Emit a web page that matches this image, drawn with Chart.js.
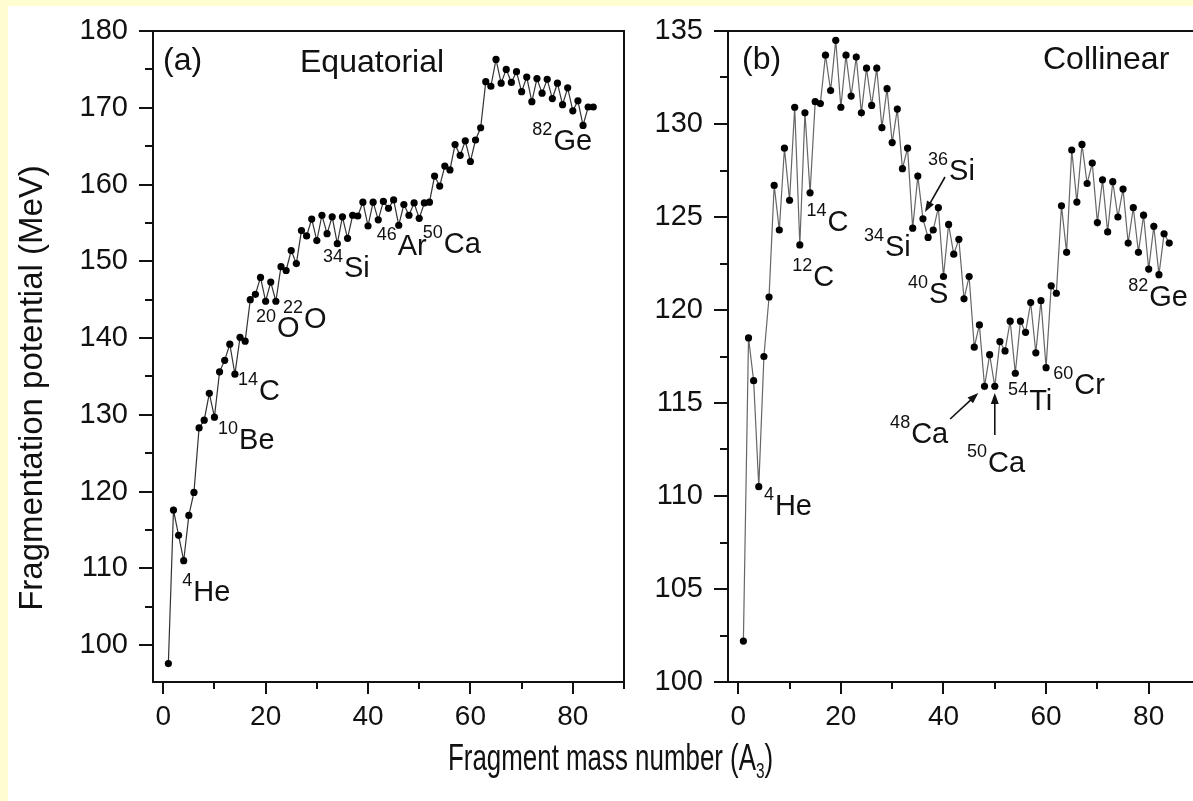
<!DOCTYPE html>
<html>
<head>
<meta charset="utf-8">
<script src="https://cdn.jsdelivr.net/npm/chart.js@4.4.0/dist/chart.umd.min.js"></script>
<style>
    html, body { margin: 0; padding: 0; }
    body {
        width: 1193px; height: 801px; overflow: hidden; position: relative;
        background: #fff; font-family: "Liberation Sans", Arial, sans-serif;
    }
    .strip { position: absolute; background: #fdfdcf; z-index: 5; }
    #stripTop { left: 0; top: 0; width: 1193px; height: 6px; }
    #stripLeft { left: 0; top: 0; width: 8px; height: 801px; }
    #panelA { position: absolute; left: 0; top: 0; }
    #panelB { position: absolute; left: 640px; top: 0; }
    #xTitle {
        position: absolute; left: 448px; top: 737px; font-size: 37px; color: #111;
        white-space: nowrap; transform: scaleX(0.7); transform-origin: 0 0;
    }
    #xTitle sub { font-size: 22px; vertical-align: -8px; }
</style>
</head>
<body>
<div class="strip" id="stripTop"></div>
<div class="strip" id="stripLeft"></div>
<canvas id="panelA" width="640" height="801"></canvas>
<canvas id="panelB" width="580" height="801"></canvas>
<div id="xTitle">Fragment mass number (A<sub>3</sub>)</div>
<script>
// fragment mass number A3 (both panels share it)
const massNumbers = [
    1, 2, 3, 4, 5, 6, 7, 8, 9, 10, 11, 12, 13, 14, 15, 16, 17, 18, 19, 20,
    21, 22, 23, 24, 25, 26, 27, 28, 29, 30, 31, 32, 33, 34, 35, 36, 37, 38, 39, 40,
    41, 42, 43, 44, 45, 46, 47, 48, 49, 50, 51, 52, 53, 54, 55, 56, 57, 58, 59, 60,
    61, 62, 63, 64, 65, 66, 67, 68, 69, 70, 71, 72, 73, 74, 75, 76, 77, 78, 79, 80,
    81, 82, 83, 84,
];

// (a) equatorial configuration, MeV
const equatorialPotential = [
    97.6, 117.6, 114.3, 111.0, 116.9, 119.9, 128.3, 129.3, 132.8, 129.7,
    135.6, 137.1, 139.2, 135.3, 140.1, 139.6, 145.0, 145.7, 147.9, 144.8,
    147.3, 144.8, 149.3, 148.8, 151.4, 149.7, 154.0, 153.3, 155.5, 152.7,
    156.0, 153.6, 155.8, 152.3, 155.8, 153.0, 156.0, 155.9, 157.7, 154.6,
    157.7, 155.4, 157.8, 156.9, 158.0, 154.7, 157.4, 156.0, 157.6, 155.6,
    157.6, 157.7, 161.1, 159.8, 162.4, 161.9, 165.2, 163.8, 165.7, 163.0,
    165.8, 167.4, 173.4, 172.8, 176.3, 173.2, 175.0, 173.3, 174.7, 172.1,
    174.0, 170.8, 173.8, 171.9, 173.7, 171.2, 173.2, 170.4, 172.6, 169.6,
    170.9, 167.7, 170.1, 170.1,
];

// (b) collinear configuration, MeV
const collinearPotential = [
    102.2, 118.5, 116.2, 110.5, 117.5, 120.7, 126.7, 124.3, 128.7, 125.9,
    130.9, 123.5, 130.6, 126.3, 131.2, 131.1, 133.7, 131.8, 134.5, 130.9,
    133.7, 131.5, 133.6, 130.6, 133.0, 131.0, 133.0, 129.8, 131.9, 129.0,
    130.8, 127.6, 128.7, 124.4, 127.2, 124.9, 123.9, 124.3, 125.5, 121.8,
    124.6, 123.0, 123.8, 120.6, 121.8, 118.0, 119.2, 115.9, 117.6, 115.9,
    118.3, 117.8, 119.4, 116.6, 119.4, 118.8, 120.4, 117.7, 120.5, 116.9,
    121.3, 120.9, 125.6, 123.1, 128.6, 125.8, 128.9, 126.8, 127.9, 124.7,
    127.0, 124.2, 126.9, 125.0, 126.5, 123.6, 125.5, 123.1, 125.1, 122.2,
    124.5, 121.9, 124.1, 123.6,
];

// tick labels
const massTicks = [0, 20, 40, 60, 80];
const equatorialTicks = [100, 110, 120, 130, 140, 150, 160, 170, 180];
const collinearTicks = [100, 105, 110, 115, 120, 125, 130, 135];

const FONT = '"Liberation Sans", Arial, sans-serif';

// nuclide labels, placed at (A, MeV) of their baseline start
const equatorialLabels = [
    { sup: "4", sym: "He", a: 3.7, v: 105.8 },
    { sup: "10", sym: "Be", a: 10.7, v: 125.6 },
    { sup: "14", sym: "C", a: 14.6, v: 131.9 },
    { sup: "20", sym: "O", a: 18.1, v: 140.2 },
    { sup: "22", sym: "O", a: 23.4, v: 141.3 },
    { sup: "34", sym: "Si", a: 31.2, v: 147.9 },
    { sup: "46", sym: "Ar", a: 41.7, v: 150.8 },
    { sup: "50", sym: "Ca", a: 50.7, v: 151.1 },
    { sup: "82", sym: "Ge", a: 72.1, v: 164.5 },
];
const collinearLabels = [
    { sup: "4", sym: "He", a: 5.0, v: 109.0 },
    { sup: "12", sym: "C", a: 10.5, v: 121.3 },
    { sup: "14", sym: "C", a: 13.3, v: 124.25 },
    { sup: "34", sym: "Si", a: 24.5, v: 122.9 },
    { sup: "36", sym: "Si", a: 37.0, v: 127.0 },
    { sup: "40", sym: "S", a: 33.1, v: 120.4 },
    { sup: "48", sym: "Ca", a: 29.6, v: 112.85 },
    { sup: "50", sym: "Ca", a: 44.6, v: 111.3 },
    { sup: "54", sym: "Ti", a: 52.6, v: 114.6 },
    { sup: "60", sym: "Cr", a: 61.4, v: 115.5 },
    { sup: "82", sym: "Ge", a: 76.0, v: 120.2 },
];
const collinearArrows = [
    { from: [40.3, 127.15], to: [36.4, 125.27] },
    { from: [41.3, 114.14], to: [46.8, 115.54] },
    { from: [50.0, 113.28], to: [50.0, 115.54] },
];

// frame, minor/major ticks, texts and arrows
const panelDecor = {
    id: "panelDecor",
    afterDraw(chart, args, opts) {
        const { ctx, chartArea: area } = chart;
        const xs = chart.scales.x;
        const ys = chart.scales.y;
        ctx.save();
        ctx.strokeStyle = "#111";
        ctx.fillStyle = "#111";
        ctx.lineWidth = 2;
        ctx.strokeRect(area.left, area.top, area.right - area.left, area.bottom - area.top);

        ctx.beginPath();
        for (let v = xs.min; v <= xs.max; v++) {
            if (v % 10 !== 0) continue;
            const px = Math.round(xs.getPixelForValue(v));
            const len = v % 20 === 0 ? 12 : 7;
            ctx.moveTo(px, area.bottom);
            ctx.lineTo(px, area.bottom + len);
        }
        const step = opts.yStep;
        for (let v = opts.yTicks[0] - step / 2; v <= ys.max + 0.01; v += step / 2) {
            if (v < ys.min) continue;
            const py = Math.round(ys.getPixelForValue(v));
            const major = opts.yTicks.includes(Math.round(v * 10) / 10);
            ctx.moveTo(area.left, py);
            ctx.lineTo(area.left - (major ? 14 : 8), py);
        }
        ctx.stroke();

        ctx.textAlign = "left";
        ctx.textBaseline = "alphabetic";
        ctx.font = "32px " + FONT;
        opts.texts.forEach((t) => {
            ctx.fillText(t.text, area.left + t.dx, area.top + t.dy);
        });

        opts.labels.forEach((lab) => {
            const px = xs.getPixelForValue(lab.a);
            const py = ys.getPixelForValue(lab.v);
            ctx.font = "18px " + FONT;
            ctx.fillText(lab.sup, px, py - 15);
            const w = ctx.measureText(lab.sup).width;
            ctx.font = "29px " + FONT;
            ctx.fillText(lab.sym, px + w + 1, py);
        });

        ctx.lineWidth = 1.6;
        (opts.arrows || []).forEach((arr) => {
            const x1 = xs.getPixelForValue(arr.from[0]);
            const y1 = ys.getPixelForValue(arr.from[1]);
            const x2 = xs.getPixelForValue(arr.to[0]);
            const y2 = ys.getPixelForValue(arr.to[1]);
            const ang = Math.atan2(y2 - y1, x2 - x1);
            ctx.beginPath();
            ctx.moveTo(x1, y1);
            ctx.lineTo(x2 - 8 * Math.cos(ang), y2 - 8 * Math.sin(ang));
            ctx.stroke();
            ctx.beginPath();
            ctx.moveTo(x2, y2);
            ctx.lineTo(x2 - 11 * Math.cos(ang) + 4 * Math.sin(ang), y2 - 11 * Math.sin(ang) - 4 * Math.cos(ang));
            ctx.lineTo(x2 - 11 * Math.cos(ang) - 4 * Math.sin(ang), y2 - 11 * Math.sin(ang) + 4 * Math.cos(ang));
            ctx.closePath();
            ctx.fill();
        });

        if (opts.yTitle) {
            ctx.translate(33, 388);
            ctx.rotate(-Math.PI / 2);
            ctx.textAlign = "center";
            ctx.textBaseline = "middle";
            ctx.font = "33px " + FONT;
            ctx.fillText(opts.yTitle, 0, 0);
        }
        ctx.restore();
    },
};

function makePanel(canvasId, values, yMin, yMax, yTicks, axisWidth, padRight, decor, lineColor) {
    new Chart(document.getElementById(canvasId), {
        type: "line",
        data: {
            datasets: [
                {
                    data: massNumbers.map((a, i) => ({ x: a, y: values[i] })),
                    borderColor: lineColor,
                    borderWidth: 1.2,
                    pointRadius: 3.6,
                    pointBackgroundColor: "#000",
                    pointBorderWidth: 0,
                    tension: 0,
                },
            ],
        },
        options: {
            responsive: false,
            animation: false,
            layout: { padding: { left: 0, top: 31, right: padRight, bottom: 0 } },
            plugins: {
                legend: { display: false },
                tooltip: { enabled: false },
                panelDecor: decor,
            },
            scales: {
                x: {
                    type: "linear",
                    min: -2,
                    max: 90,
                    grid: { display: false, drawTicks: false },
                    border: { display: false },
                    afterBuildTicks: (scale) => {
                        scale.ticks = massTicks.map((v) => ({ value: v }));
                    },
                    afterFit: (scale) => {
                        scale.height = 119;
                        scale.paddingLeft = 0;
                        scale.paddingRight = 0;
                    },
                    ticks: { color: "#111", font: { size: 28, family: FONT }, padding: 18, maxRotation: 0 },
                },
                y: {
                    min: yMin,
                    max: yMax,
                    grid: { display: false, drawTicks: false },
                    border: { display: false },
                    afterBuildTicks: (scale) => {
                        scale.ticks = yTicks.map((v) => ({ value: v }));
                    },
                    // fixed axis box so that the plot area lands where the figure has it
                    afterFit: (scale) => {
                        scale.width = axisWidth;
                        scale.paddingTop = 0;
                        scale.paddingBottom = 0;
                    },
                    ticks: { color: "#111", font: { size: 29, family: FONT }, padding: 25 },
                },
            },
        },
        plugins: [panelDecor],
    });
}

document.addEventListener("DOMContentLoaded", () => {
    makePanel("panelA", equatorialPotential, 95.2, 180, equatorialTicks, 153, 16, {
        yTicks: equatorialTicks,
        yStep: 10,
        texts: [
            { text: "(a)", dx: 10, dy: 39 },
            { text: "Equatorial", dx: 147, dy: 41 },
        ],
        labels: equatorialLabels,
        yTitle: "Fragmentation potential (MeV)",
    }, "#333");

    makePanel("panelB", collinearPotential, 100, 135, collinearTicks, 88, 20, {
        yTicks: collinearTicks,
        yStep: 5,
        texts: [
            { text: "(b)", dx: 14, dy: 38 },
            { text: "Collinear", dx: 315, dy: 38 },
        ],
        labels: collinearLabels,
        arrows: collinearArrows,
    }, "#666");
});
</script>
</body>
</html>
